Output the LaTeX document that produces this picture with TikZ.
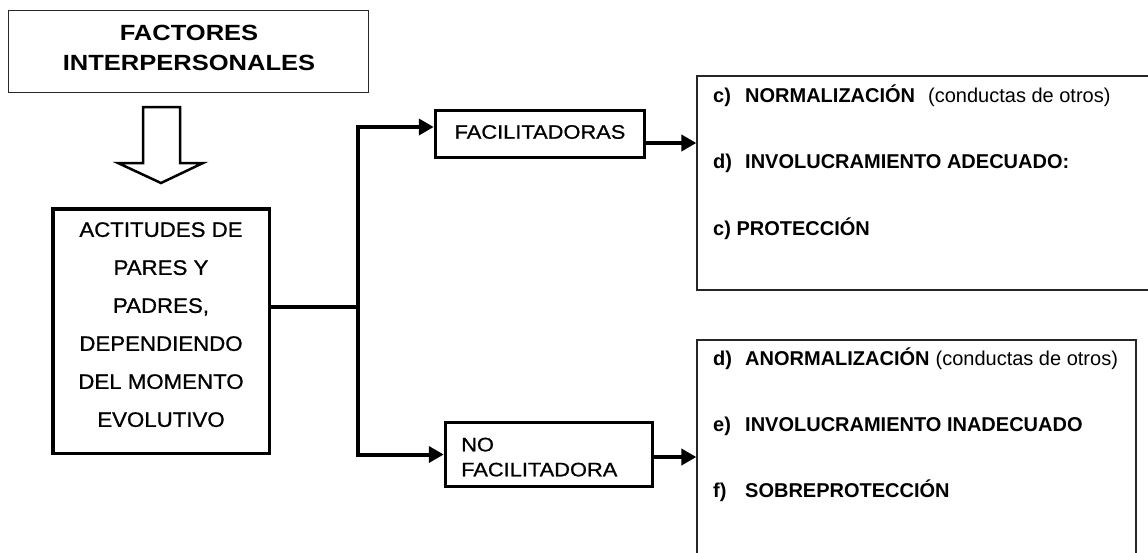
\documentclass[tikz,border=0pt]{standalone}
\usepackage{fontspec}
\setmainfont{Liberation Sans}
\newfontfamily\headfont{Liberation Sans}[FakeStretch=1.16]
\newfontfamily\midfont{Liberation Sans}[FakeStretch=1.12,FakeBold=0.8]
\newfontfamily\actfont{Liberation Sans}[FakeStretch=1.06,FakeBold=0.8]
\usetikzlibrary{arrows.meta,calc}

\begin{document}
\begin{tikzpicture}[x=1pt,y=-1pt,
  thinbox/.style={draw=black!85, line width=1.3pt, inner sep=0pt},
  thickbox/.style={draw, line width=3.5pt, inner sep=0pt},
  conn/.style={line width=4pt, -{Triangle[length=15pt,width=16pt]}},
  plainline/.style={line width=4pt},
  itemtext/.style={anchor=base west, inner sep=0pt, font=\fontsize{20pt}{24pt}\selectfont},
  midtext/.style={inner sep=0pt, font=\midfont\fontsize{19.5pt}{25pt}\selectfont},
]
% canvas
\fill[white] (0,0) rectangle (1148,552);
\clip (0,0) rectangle (1148,552);

% heading box
\node[thinbox, minimum width=360pt, minimum height=82pt] (head) at (188.5,51.5) {};
\node[anchor=north, inner sep=0pt, align=center,
      font=\headfont\bfseries\fontsize{22pt}{30pt}\selectfont] (headtxt) at (189,25)
  {FACTORES\\INTERPERSONALES};

% hollow block arrow
\draw[line width=2.5pt, fill=white, line join=miter]
  (143,107) -- (180,107) -- (180,163) -- (203,163) -- (161,183)
  -- (118,163) -- (143,163) -- cycle;

% attitudes box
\node[thickbox, minimum width=216.5pt, minimum height=244.5pt] (act) at (161,331) {};
\node[anchor=north, inner sep=0pt, align=center,
      font=\actfont\fontsize{21pt}{38pt}\selectfont] (acttxt) at (161,222)
  {ACTITUDES DE\\PARES Y\\PADRES,\\DEPENDIENDO\\DEL MOMENTO\\EVOLUTIVO};

% branch boxes
\node[thickbox, minimum width=209pt, minimum height=47pt] (fac) at (540,134) {};
\node[midtext] (factxt) at (540,132) {FACILITADORAS};
\node[thickbox, minimum width=207pt, minimum height=64pt] (nofac) at (549,454.5) {};
\node[midtext, anchor=north west, align=left] (nofactxt) at (461,437.5) {NO\\FACILITADORA};

% outcome boxes
\node[thinbox, minimum width=468pt, minimum height=214pt] (rtop) at (931,183) {};
\node[thinbox, minimum width=439pt, minimum height=235pt] (rbot) at (916.5,457.5) {};

\node[itemtext] (t1) at (713,102)
  {\textbf{\makebox[32pt][l]{c)}NORMALIZACIÓN}\hspace{13pt}(conductas de otros)};
\node[itemtext] (t2) at (713,168)
  {\textbf{\makebox[32pt][l]{d)}INVOLUCRAMIENTO ADECUADO:}};
\node[itemtext] (t3) at (713,235) {\textbf{c) PROTECCIÓN}};

\node[itemtext] (b1) at (713,365)
  {\textbf{\makebox[32pt][l]{d)}ANORMALIZACIÓN}\hspace{6pt}(conductas de otros)};
\node[itemtext] (b2) at (713,431)
  {\textbf{\makebox[32pt][l]{e)}INVOLUCRAMIENTO INADECUADO}};
\node[itemtext] (b3) at (713,497)
  {\textbf{\makebox[32pt][l]{f)}SOBREPROTECCIÓN}};

% connectors
\coordinate (split) at (358,307);
\draw[plainline] (act.east |- split) -- (split);
\draw[conn] (split) |- ([yshift=7pt]fac.west);
\draw[conn] (split) |- (nofac.west);
\draw[conn] ([yshift=-9pt]fac.east) -- ([yshift=-9pt]fac.east -| rtop.west);
\draw[conn] ([yshift=-2.5pt]nofac.east) -- ([yshift=-2.5pt]nofac.east -| rbot.west);
\end{tikzpicture}
\end{document}
